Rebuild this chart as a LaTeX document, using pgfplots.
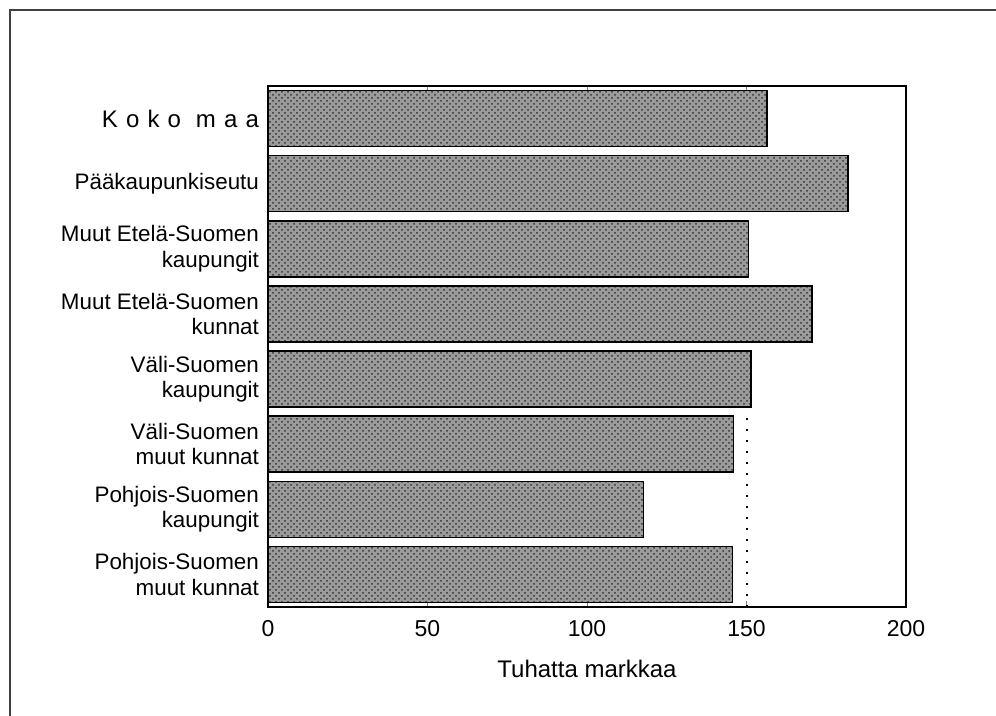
\documentclass[border=0pt]{standalone}
\usepackage{fontspec}
\setmainfont{Liberation Sans}
\usepackage{pgfplots}
\pgfplotsset{compat=1.18}
\usetikzlibrary{patterns}
\definecolor{barfill}{RGB}{155,155,155}

\begin{document}
\begin{tikzpicture}[x=0.5pt,y=0.5pt]
\useasboundingbox (0,0) rectangle (996,716);
% outer frame (top and left edges only are visible)
\draw[line width=0.8pt, black!75] (10,0) -- (10,706) -- (996,706);
\coordinate (origin) at (268,109);
\begin{axis}[
    at={(origin)}, anchor=south west,
    width=319pt, height=260.5pt, scale only axis,
    xmin=0, xmax=200,
    ymin=0.5, ymax=8.5,
    bar width=28pt,
    xtick={0,50,100,150,200},
    ytick={1,2,3,4,5,6,7,8},
    yticklabels={
        {Pohjois-Suomen\\muut kunnat},
        {Pohjois-Suomen\\kaupungit},
        {Väli-Suomen\\muut kunnat},
        {Väli-Suomen\\kaupungit},
        {Muut Etelä-Suomen\\kunnat},
        {Muut Etelä-Suomen\\kaupungit},
        {Pääkaupunkiseutu},
        {\fontsize{12}{14}\selectfont\addfontfeature{LetterSpace=34}Koko maa}},
    yticklabel style={align=right, font=\fontsize{11.2}{12.6}\selectfont, xshift=-1pt},
    xticklabel style={font=\fontsize{11.5}{13}\selectfont, yshift=-3pt},
    /pgf/number format/assume math mode=true,
    ytick style={draw=none},
    major tick length=3pt,
    axis line style={line width=1pt},
    xlabel={Tuhatta markkaa},
    xlabel style={font=\fontsize{12}{14}\selectfont, yshift=-5pt},
]
\addplot[xbar, draw=black, line width=0.8pt, fill=barfill,
    postaction={pattern=crosshatch dots, pattern color=black!80}]
coordinates {
    (145.6,1)
    (117.7,2)
    (145.9,3)
    (151.4,4)
    (170.5,5)
    (150.6,6)
    (181.9,7)
    (156.5,8)
};
\addplot[black, line width=1pt, dash pattern=on 1pt off 4.5pt]
coordinates {(150,0.5) (150,3.45)};
\end{axis}
\end{tikzpicture}
\end{document}
